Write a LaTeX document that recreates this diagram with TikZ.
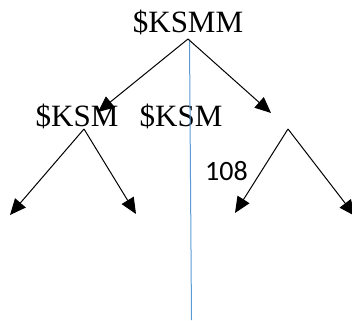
\documentclass[tikz,border=0pt]{standalone}
\usepackage{fontspec}
\setmainfont{Liberation Serif}
\newfontfamily\calfont{Carlito}
\usetikzlibrary{arrows.meta}
\tikzset{
  lbl/.style={inner sep=0pt, anchor=base, font=\fontsize{31}{36}\selectfont},
  num/.style={inner sep=0pt, anchor=base west, font=\calfont\fontsize{28}{32}\selectfont},
  arr/.style={draw=black, line width=1pt, -{Triangle[length=16pt,width=14pt]}},
  guide/.style={draw={rgb,255:red,91;green,155;blue,213}, line width=1pt}
}
\begin{document}
\begin{tikzpicture}[x=1pt,y=-1pt]
\useasboundingbox (0,0) rectangle (352,320);
\node[lbl] (root) at (188,33) {\$KSMM};
\node[lbl] (l) at (77,127) {\$KSM};
\node[lbl] (m) at (181,127) {\$KSM};
\node[num] (n) at (205,180) {108};
\coordinate (ra) at (188,39);
\coordinate (rl) at (98,112);
\coordinate (rr) at (271,113);
\coordinate (la) at (84,129);
\coordinate (ll) at (10,215);
\coordinate (lr) at (136,214);
\coordinate (qa) at (288,129);
\coordinate (ql) at (235,213);
\coordinate (qr) at (355,216);
\coordinate (bt) at (189.5,40);
\coordinate (bb) at (191.5,320);
\draw[guide] (bt) -- (bb);
\draw[arr] (ra) -- (rl);
\draw[arr] (ra) -- (rr);
\draw[arr] (la) -- (ll);
\draw[arr] (la) -- (lr);
\draw[arr] (qa) -- (ql);
\draw[arr] (qa) -- (qr);
\end{tikzpicture}
\end{document}
